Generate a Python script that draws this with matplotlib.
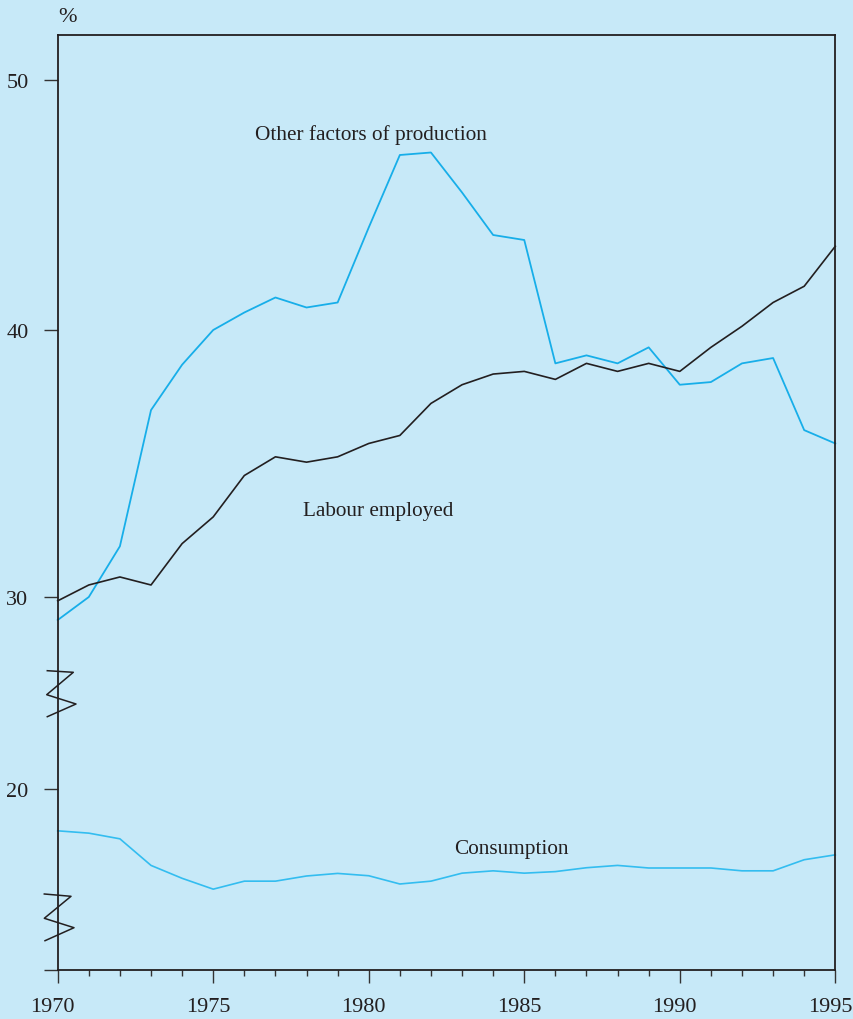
"""Shares of labour employed, other factors of production and consumption, 1970-1995.

Broken y-axis: the upper panel runs from 30 to 50, the consumption line sits
below a break around 20.
"""

import matplotlib
matplotlib.use("Agg")
import matplotlib.pyplot as plt
import matplotlib.ticker as mticker
import matplotlib.transforms as mtransforms
import numpy as np

plt.rcParams.update({
    "font.family":      ["Liberation Serif", "DejaVu Serif"],
    "font.size":        16,
    "text.color":       "#231f20",
    "xtick.color":      "#333333",
    "ytick.color":      "#333333",
    "xtick.labelcolor": "#231f20",
    "ytick.labelcolor": "#231f20",
})

BG    = "#c7e9f8"
BLUE  = "#17aee9"
BLUE2 = "#33bdf0"
DARK  = "#231f20"

# ---------------------------------------------------------------------------
# data (% share)
# ---------------------------------------------------------------------------
YEARS = list(range(1970, 1996))

OTHER_FACTORS = [28.8, 30.0, 31.9, 37.0, 38.7, 40.0, 40.7, 41.3, 40.9, 41.1,
                 44.1, 47.0, 47.1, 45.5, 43.8, 43.6, 38.75, 39.05, 38.75, 39.35,
                 37.95, 38.05, 38.75, 38.95, 36.25, 35.75]

LABOUR = [29.8, 30.45, 30.75, 30.45, 32.0, 33.0, 34.55, 35.25, 35.05, 35.25,
          35.75, 36.05, 37.25, 37.95, 38.35, 38.45, 38.15, 38.75, 38.45, 38.75,
          38.45, 39.35, 40.15, 41.1, 41.75, 43.35]

CONSUMPTION = [18.38, 18.29, 18.07, 17.04, 16.54, 16.12, 16.43, 16.43, 16.63, 16.73,
               16.64, 16.32, 16.43, 16.74, 16.83, 16.74, 16.80, 16.95, 17.04, 16.94,
               16.94, 16.94, 16.83, 16.83, 17.26, 17.45]

Y_TICKS       = [20, 30, 40, 50]
X_LABEL_YEARS = [1970, 1975, 1980, 1985, 1990, 1995]

# the drawn axis is not evenly spaced: value -> height (px) above the x-axis
KNOT_VALUES = [13.0, 20.0, 30.0, 40.0, 50.0, 51.8]
KNOT_HEIGHT = [0.0, 180.7, 372.7, 639.7, 889.7, 934.7]


def fwd(v):
    return np.interp(v, KNOT_VALUES, KNOT_HEIGHT)


def inv(h):
    return np.interp(h, KNOT_HEIGHT, KNOT_VALUES)


# ---------------------------------------------------------------------------
# plot
# ---------------------------------------------------------------------------
W, H = 854, 1020
fig = plt.figure(figsize=(W / 100, H / 100), dpi=100, facecolor=BG)
ax = fig.add_axes([57.7 / W, 1 - 970.7 / H, 777.6 / W, 934.7 / H])
ax.set_facecolor(BG)

ax.set_yscale("function", functions=(fwd, inv))
ax.set_xlim(YEARS[0], YEARS[-1])
ax.set_ylim(KNOT_VALUES[0], KNOT_VALUES[-1])

ax.plot(YEARS, OTHER_FACTORS, color=BLUE, lw=1.3, clip_on=False)
ax.plot(YEARS, LABOUR, color=DARK, lw=1.2, clip_on=False)
ax.plot(YEARS, CONSUMPTION, color=BLUE2, lw=1.2, clip_on=False)

LABEL_SIZE = 15.3
ax.text(1976.35, 47.64, "Other factors of production", ha="left", va="baseline",
        fontsize=LABEL_SIZE)
ax.text(1977.9, 33.07, "Labour employed", ha="left", va="baseline", fontsize=LABEL_SIZE)
ax.text(1982.76, 17.52, "Consumption", ha="left", va="baseline", fontsize=LABEL_SIZE)

for side in ax.spines.values():
    side.set_color(DARK)
    side.set_linewidth(1.3)

# ticks: every year on x (labels every 5), fixed values on y
ax.xaxis.set_major_locator(mticker.FixedLocator(X_LABEL_YEARS))
ax.xaxis.set_minor_locator(mticker.FixedLocator(YEARS))
ax.xaxis.set_major_formatter(mticker.FixedFormatter([str(y) for y in X_LABEL_YEARS]))
ax.tick_params(axis="x", which="major", direction="out", length=9, width=1.0, pad=11)
ax.tick_params(axis="x", which="minor", direction="out", length=4, width=1.0)

ax.yaxis.set_major_locator(mticker.FixedLocator([KNOT_VALUES[0]] + Y_TICKS))
ax.yaxis.set_major_formatter(mticker.FixedFormatter([""] + [str(t) for t in Y_TICKS]))
ax.yaxis.set_minor_locator(mticker.NullLocator())
ax.tick_params(axis="y", which="major", direction="out", length=10, width=1.0, pad=11)

# year labels sit a little left of their ticks in the original
shift = mtransforms.ScaledTranslation(-5 / 100, 0, fig.dpi_scale_trans)
for lab in ax.get_xticklabels():
    lab.set_transform(lab.get_transform() + shift)

fig.text(58 / W, 1 - 17 / H, "%", ha="left", va="center")

# axis break marks on the left spine (pixel positions in the figure)
breaks = [
    [(47.3, 671.7), (73.3, 673.3), (46.7, 695.7), (76.0, 705.0), (47.3, 717.7)],
    [(44.3, 895.0), (71.0, 897.3), (44.3, 919.3), (74.0, 928.7), (45.0, 941.7)],
]
for pts in breaks:
    xs = [p[0] / W for p in pts]
    ys = [1 - p[1] / H for p in pts]
    fig.add_artist(plt.Line2D(xs, ys, color=DARK, lw=1.1, transform=fig.transFigure))

fig.savefig("out.png", dpi=100, facecolor=BG)
